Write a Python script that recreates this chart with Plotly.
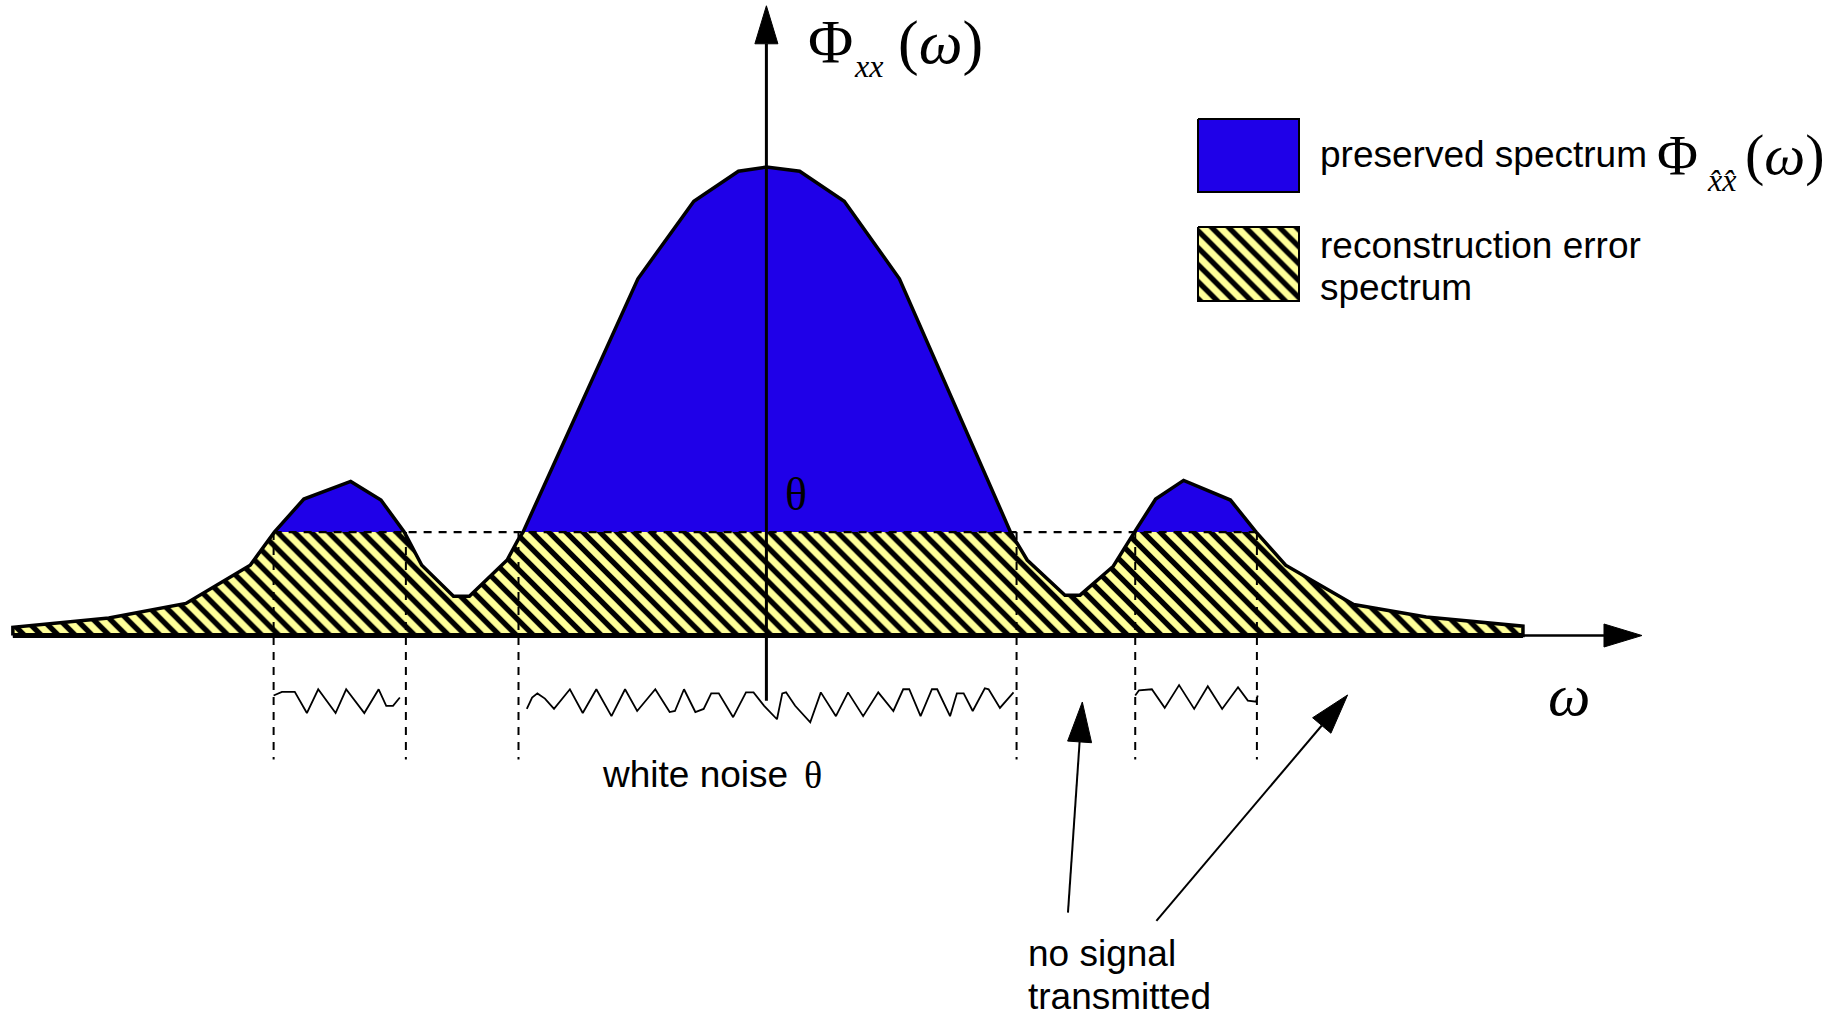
import plotly.graph_objects as go

# ---------------- data ----------------
# spectrum Phi_xx(omega); theta = white-noise threshold (units: theta = 1)
omega = [-9.97, -8.70, -7.68, -6.83, -6.51, -6.12, -5.50, -5.10, -4.79, -4.56, -4.14, -3.93,
         -3.43, -3.29, -3.22, -1.70, -0.96, -0.37, 0.0, 0.44, 1.03, 1.76, 3.23, 3.45, 3.95,
         4.15, 4.59, 4.87, 5.15, 5.52, 6.14, 6.48, 6.87, 7.77, 8.73, 10.01]
phi = [0.08, 0.17, 0.31, 0.68, 1.0, 1.32, 1.49, 1.31, 1.0, 0.68, 0.38, 0.38,
       0.73, 0.92, 1.0, 3.45, 4.20, 4.49, 4.53, 4.49, 4.20, 3.45, 1.0, 0.73, 0.39,
       0.39, 0.67, 1.0, 1.32, 1.50, 1.31, 1.0, 0.68, 0.30, 0.18, 0.09]
theta = 1.0

band_edges = [-6.52, -4.77, -3.28, 3.31, 4.88, 6.49]
band_bottom = -1.2

noise_left_w = [-6.52, -6.41, -6.24, -6.08, -5.93, -5.70, -5.56, -5.32, -5.13, -5.03, -4.94, -4.85]
noise_left_phi = [-0.58, -0.545, -0.545, -0.75, -0.52, -0.75, -0.52, -0.75, -0.52, -0.68, -0.68, -0.60]

noise_center_w = [-3.17, -3.10, -3.03, -2.93, -2.81, -2.60, -2.43, -2.25, -2.05, -1.87,
                  -1.71, -1.47, -1.28, -1.21, -1.09, -0.94, -0.83, -0.73, -0.63, -0.44,
                  -0.27, -0.17, -0.03, 0.14, 0.21, 0.26, 0.38, 0.58, 0.72, 0.92,
                  1.08, 1.28, 1.48, 1.68, 1.81, 1.89, 2.04, 2.19, 2.26, 2.43,
                  2.52, 2.61, 2.73, 2.89, 2.94, 3.09, 3.27]
noise_center_phi = [-0.71, -0.60, -0.56, -0.61, -0.71, -0.52, -0.75, -0.52, -0.78, -0.52,
                    -0.73, -0.52, -0.74, -0.73, -0.52, -0.74, -0.71, -0.56, -0.56, -0.79,
                    -0.55, -0.55, -0.68, -0.81, -0.56, -0.55, -0.68, -0.84, -0.55, -0.78,
                    -0.55, -0.78, -0.55, -0.73, -0.52, -0.52, -0.78, -0.52, -0.52, -0.78,
                    -0.56, -0.56, -0.73, -0.51, -0.52, -0.70, -0.55]

noise_right_w = [4.88, 4.93, 5.10, 5.27, 5.46, 5.66, 5.84, 6.03, 6.24, 6.37, 6.48, 6.50]
noise_right_phi = [-0.58, -0.53, -0.52, -0.70, -0.48, -0.71, -0.49, -0.71, -0.50, -0.63, -0.64, -0.58]

# axes extents and pointer arrows (tail -> tip)
x_axis_tip = 11.585
y_axis_bottom = -0.63
y_axis_tip = 6.09
pointer_tails = [(3.99, -2.68), (5.16, -2.76)]
pointer_tips = [(4.18, -0.643), (7.69, -0.575)]

# ---------------- layout geometry ----------------
W, H = 1843, 1018
X0, SX = 766.4, 75.58     # pixel of omega=0, px per omega unit
Y0, SY = 635.5, 103.4     # pixel of phi=0, px per phi unit
BLUE = "#1f00e8"
YELLOW = "#ffff99"
SANS = "Liberation Sans, Arial, sans-serif"
SERIF = "Liberation Serif, Times New Roman, serif"
TS = 37  # text size


def to_px(w, p):
    return X0 + w * SX, Y0 - p * SY


def to_data(px, py):
    return (px - X0) / SX, (Y0 - py) / SY


def head(tail, tip, length=38.0, half=11.5):
    tx, ty = to_px(*tail)
    hx, hy = to_px(*tip)
    dx, dy = hx - tx, hy - ty
    n = (dx * dx + dy * dy) ** 0.5
    ux, uy = dx / n, dy / n
    bx, by = hx - ux * length, hy - uy * length
    pts = [(hx, hy), (bx - uy * half, by + ux * half), (bx + uy * half, by - ux * half), (hx, hy)]
    d = [to_data(*p) for p in pts]
    base = to_data(bx, by)
    return [q[0] for q in d], [q[1] for q in d], base


fig = go.Figure()

# blue: whole spectrum
fig.add_trace(go.Scatter(x=omega, y=phi, mode="lines", line=dict(width=0, color=BLUE),
                         fill="tozeroy", fillcolor=BLUE, hoverinfo="skip"))
# hatched: reconstruction error = min(phi, theta)
err = [min(v, theta) for v in phi]
PATTERN = dict(shape="\\", bgcolor=YELLOW, fgcolor="black", fgopacity=1, size=12, solidity=0.45)
fig.add_trace(go.Scatter(x=omega, y=err, mode="lines", line=dict(width=0, color=YELLOW),
                         fill="tozeroy", fillcolor=YELLOW, fillpattern=PATTERN,
                         hoverinfo="skip"))
# outline
ox = [omega[0]] + omega + [omega[-1], omega[0]]
oy = [0] + phi + [0, 0]
fig.add_trace(go.Scatter(x=ox, y=oy, mode="lines", line=dict(color="black", width=3.5),
                         hoverinfo="skip"))

DASH = "8px,7px"
# theta dashed line
fig.add_trace(go.Scatter(x=[band_edges[0], band_edges[-1]], y=[theta, theta], mode="lines",
                         line=dict(color="black", width=2.2, dash=DASH), hoverinfo="skip"))
# vertical band edges
for b in band_edges:
    fig.add_trace(go.Scatter(x=[b, b], y=[theta, band_bottom], mode="lines",
                             line=dict(color="black", width=2, dash=DASH), hoverinfo="skip"))

# omega axis
fig.add_trace(go.Scatter(x=[omega[0], omega[-1]], y=[0, 0], mode="lines",
                         line=dict(color="black", width=5), hoverinfo="skip"))
hx, hy, base = head((omega[-1], 0), (x_axis_tip, 0))
fig.add_trace(go.Scatter(x=[omega[-1], base[0]], y=[0, 0], mode="lines",
                         line=dict(color="black", width=2.5), hoverinfo="skip"))
fig.add_trace(go.Scatter(x=hx, y=hy, mode="lines", fill="toself", fillcolor="black",
                         line=dict(color="black", width=1), hoverinfo="skip"))
# phi axis
hx, hy, base = head((0, y_axis_bottom), (0, y_axis_tip))
fig.add_trace(go.Scatter(x=[0, 0], y=[y_axis_bottom, base[1]], mode="lines",
                         line=dict(color="black", width=3), hoverinfo="skip"))
fig.add_trace(go.Scatter(x=hx, y=hy, mode="lines", fill="toself", fillcolor="black",
                         line=dict(color="black", width=1), hoverinfo="skip"))

# white noise zigzags
for xs, ys in [(noise_left_w, noise_left_phi), (noise_center_w, noise_center_phi),
               (noise_right_w, noise_right_phi)]:
    fig.add_trace(go.Scatter(x=xs, y=ys, mode="lines", line=dict(color="black", width=1.8),
                             hoverinfo="skip"))

# pointer arrows
for tail, tip in zip(pointer_tails, pointer_tips):
    hx, hy, base = head(tail, tip, length=40, half=12)
    fig.add_trace(go.Scatter(x=[tail[0], base[0]], y=[tail[1], base[1]], mode="lines",
                             line=dict(color="black", width=2), hoverinfo="skip"))
    fig.add_trace(go.Scatter(x=hx, y=hy, mode="lines", fill="toself", fillcolor="black",
                             line=dict(color="black", width=1), hoverinfo="skip"))


# legend boxes
def box(px0, py0, px1, py1):
    a = to_data(px0, py0)
    b = to_data(px1, py1)
    return [a[0], b[0], b[0], a[0], a[0]], [a[1], a[1], b[1], b[1], a[1]]


bx, by = box(1198, 119, 1299, 192)
fig.add_trace(go.Scatter(x=bx, y=by, mode="lines", fill="toself", fillcolor=BLUE,
                         line=dict(color="black", width=2), hoverinfo="skip"))
bx, by = box(1198, 227, 1299, 301)
fig.add_trace(go.Scatter(x=bx, y=by, mode="lines", fill="toself", fillcolor=YELLOW,
                         fillpattern=PATTERN, line=dict(color="black", width=2),
                         hoverinfo="skip"))

# ---------------- texts ----------------
ann = []


def label(text, px, baseline, size, family, xanchor="left", k=0.345):
    ann.append(dict(text=text, x=px / W, y=1 - (baseline - k * size) / H,
                    xref="paper", yref="paper", xanchor=xanchor, yanchor="middle",
                    showarrow=False, font=dict(size=size, family=family, color="black")))


label("Φ", 806, 62, 62, SERIF)
label("<i>xx</i>", 852, 77, 32, SERIF)
label("(<i>ω</i>)", 940, 64, 62, SERIF, xanchor="center")

label("preserved spectrum", 1318, 167, TS, SANS)
label("Φ", 1655, 175, 56, SERIF)
label("<i>x̂x̂</i>", 1705, 191, 32, SERIF)
label("(<i>ω</i>)", 1785, 175, 58, SERIF, xanchor="center")
label("reconstruction error", 1318, 258, TS, SANS)
label("spectrum", 1318, 300, TS, SANS)

label("θ", 796, 510, 46, SERIF, xanchor="center")
label("white noise", 600, 787, TS, SANS)
label("θ", 813, 788, 38, SERIF, xanchor="center")
label("<i>ω</i>", 1569, 716, 60, SERIF, xanchor="center")
label("no signal", 1026, 966, TS, SANS)
label("transmitted", 1026, 1009, TS, SANS)

fig.update_layout(
    width=W, height=H, margin=dict(l=0, r=0, t=0, b=0),
    paper_bgcolor="white", plot_bgcolor="white", showlegend=False,
    xaxis=dict(range=[(0 - X0) / SX, (W - X0) / SX], visible=False, fixedrange=True),
    yaxis=dict(range=[(Y0 - H) / SY, Y0 / SY], visible=False, fixedrange=True),
    annotations=ann,
)

fig.write_html("out.html")
